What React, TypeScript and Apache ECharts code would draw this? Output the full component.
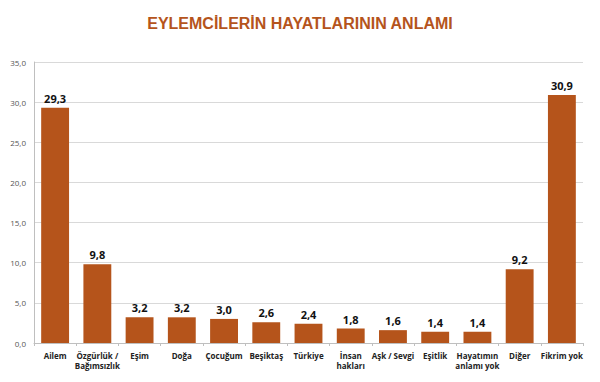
import React, { useEffect, useRef } from "react";
import * as echarts from "echarts";

const title = "EYLEMCİLERİN HAYATLARININ ANLAMI";
const categories = [
  "Ailem",
  "Özgürlük /\nBağımsızlık",
  "Eşim",
  "Doğa",
  "Çocuğum",
  "Beşiktaş",
  "Türkiye",
  "İnsan\nhakları",
  "Aşk / Sevgi",
  "Eşitlik",
  "Hayatımın\nanlamı yok",
  "Diğer",
  "Fikrim yok",
];
const values = [29.3, 9.8, 3.2, 3.2, 3.0, 2.6, 2.4, 1.8, 1.6, 1.4, 1.4, 9.2, 30.9];
const yMin = 0;
const yMax = 35;
const yInterval = 5;

const fmt = (v: number) => v.toFixed(1).replace(".", ",");

export default function App() {
  const ref = useRef<HTMLDivElement>(null);
  useEffect(() => {
    if (!ref.current) return;
    const chart = echarts.init(ref.current, null, { renderer: "svg" });
    chart.setOption({
      animation: false,
      backgroundColor: "#ffffff",
      title: {
        text: title,
        left: "center",
        top: 10,
        textStyle: {
          fontFamily: "Liberation Sans, Arial, sans-serif",
          fontSize: 16,
          fontWeight: "bold",
          color: "#B5541C",
        },
      },
      grid: { left: 34, right: 17, top: 62, bottom: 39, containLabel: false },
      xAxis: {
        type: "category",
        data: categories,
        axisLine: { lineStyle: { color: "#BFBFBF" } },
        axisTick: { show: true, length: 3, lineStyle: { color: "#BFBFBF" } },
        axisLabel: {
          interval: 0,
          fontSize: 8,
          fontWeight: "bold",
          color: "#222",
          fontFamily: "Open Sans, sans-serif",
          margin: 7,
          lineHeight: 10,
        },
      },
      yAxis: {
        type: "value",
        min: yMin,
        max: yMax,
        interval: yInterval,
        axisLine: { show: true, lineStyle: { color: "#BFBFBF" } },
        axisTick: { show: false },
        splitLine: { lineStyle: { color: "#D9D9D9" } },
        axisLabel: {
          formatter: (v: number) => fmt(v),
          fontSize: 8,
          color: "#555",
          fontFamily: "Open Sans, sans-serif",
          margin: 8,
        },
      },
      series: [
        {
          type: "bar",
          data: values,
          barWidth: "66%",
          itemStyle: { color: "#B5541B" },
          label: {
            show: true,
            position: "top",
            formatter: (p: any) => fmt(p.value),
            fontSize: 11,
            fontWeight: "bold",
            color: "#111",
            fontFamily: "Open Sans, sans-serif",
            distance: 4,
          },
        },
      ],
    });
    return () => chart.dispose();
  }, []);
  return (
    <div
      ref={ref}
      style={{ position: "absolute", left: 0, top: 0, width: 600, height: 382 }}
    />
  );
}
